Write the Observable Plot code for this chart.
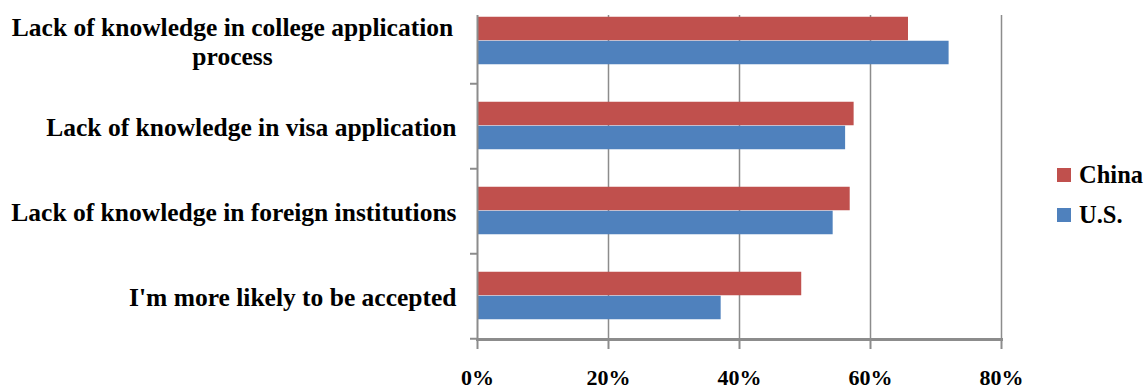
<!DOCTYPE html>
<html>
<head>
<meta charset="utf-8">
<script src="https://cdn.jsdelivr.net/npm/d3@7"></script>
<script src="https://cdn.jsdelivr.net/npm/@observablehq/plot@0.6"></script>
<style>
  html, body { margin: 0; padding: 0; background: #fff; }
  #wrap { position: relative; width: 1147px; height: 392px; overflow: hidden; }
  #wrap svg { font-family: "Liberation Serif", "DejaVu Serif", serif; font-weight: bold; }
  #legend { position: absolute; left: 1057px; top: 155px; font-family: "Liberation Serif", serif; font-weight: bold; font-size: 24.5px; color: #000; white-space: nowrap; }
  .item { display: flex; align-items: center; height: 40px; }
  .sw { width: 14px; height: 14px; margin-right: 8px; }
</style>
</head>
<body>
<div id="wrap"></div>
<script>
const categories = [
  "Lack of knowledge in college application\nprocess",
  "Lack of knowledge in visa application",
  "Lack of knowledge in foreign institutions",
  "I'm more likely to be accepted"
];
const seriesNames = ["China", "U.S."];
const china = [65.8, 57.5, 56.9, 49.5];
const us = [72.0, 56.2, 54.3, 37.2];
const xTicks = [0, 20, 40, 60, 80];
const colors = ["#C0504D", "#4F81BD"];

const chinaRows = categories.map((c, i) => ({category: c, value: china[i]}));
const usRows = categories.map((c, i) => ({category: c, value: us[i]}));

const band = 85.5;
const chart = Plot.plot({
  width: 1147,
  height: 392,
  marginLeft: 477,
  marginRight: 146,
  marginTop: 15,
  marginBottom: 53,
  x: {domain: [0, 80]},
  y: {type: "band", domain: categories, range: [-3, 339], padding: 0},
  marks: [
    Plot.ruleX(xTicks.slice(1), {stroke: "#8c8c8c", strokeWidth: 1.5}),
    Plot.barX(chinaRows, {x: "value", y: "category", fill: colors[0], insetTop: 18.75, insetBottom: band - 42.75}),
    Plot.barX(usRows, {x: "value", y: "category", fill: colors[1], insetTop: 42.75, insetBottom: 18.75}),
    Plot.ruleX([0], {stroke: "#8c8c8c", strokeWidth: 2}),
    Plot.frame({anchor: "bottom", stroke: "#8c8c8c", strokeWidth: 3}),
    Plot.axisY({tickSize: 7, dy: band / 2, tickFormat: () => "", label: null, stroke: "#8c8c8c", strokeWidth: 2}),
    Plot.axisX({ticks: xTicks, tickSize: 10, tickPadding: 20, tickFormat: d => d + "%", stroke: "#8c8c8c", strokeWidth: 2, fontSize: 22, fill: "#000", label: null}),
    Plot.text(categories.slice(0, 1), {x: () => 0, y: d => d, text: d => d, textAnchor: "middle", dx: -245, dy: 0, lineHeight: 1.15, fontSize: 25.5, fill: "#000"}),
    Plot.text(categories.slice(1), {x: () => 0, y: d => d, text: d => d, textAnchor: "end", dx: -21, dy: 2, fontSize: 25.5, fill: "#000"})
  ]
});
document.getElementById("wrap").appendChild(chart);

const legend = document.createElement("div");
legend.id = "legend";
seriesNames.forEach((n, i) => {
  const it = document.createElement("div");
  it.className = "item";
  const sw = document.createElement("div");
  sw.className = "sw";
  sw.style.background = colors[i];
  const t = document.createElement("span");
  t.textContent = n;
  it.appendChild(sw);
  it.appendChild(t);
  legend.appendChild(it);
});
document.getElementById("wrap").appendChild(legend);
</script>
</body>
</html>
